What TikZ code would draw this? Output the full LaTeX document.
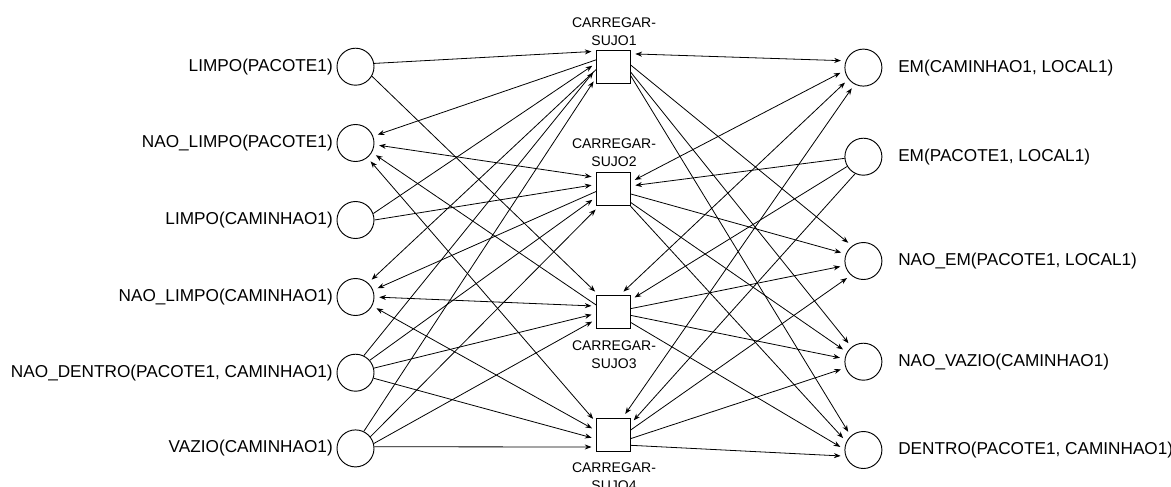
\documentclass[tikz,border=0pt]{standalone}
\usepackage{fontspec}
\setmainfont{Liberation Sans}
\usetikzlibrary{arrows.meta}
\begin{document}
\begin{tikzpicture}[x=0.75pt,y=-0.75pt,
  prop/.style={draw,circle,minimum size=27.75pt,inner sep=0pt,line width=0.7pt},
  act/.style={draw,rectangle,minimum size=25pt,inner sep=0pt,line width=0.7pt},
  lbl/.style={font=\fontsize{12.9}{15}\selectfont,inner sep=0pt},
  albl/.style={font=\fontsize{10.5}{13.1}\selectfont,align=center,inner sep=0pt},
  tip/.tip={Stealth[length=5pt,width=3.8pt]},
  conn/.style={line width=0.6pt,-tip,shorten >=3.6pt},
  biconn/.style={line width=0.6pt,tip-tip,shorten >=3.6pt,shorten <=3.6pt},
]
\useasboundingbox (0,0) rectangle (1171,486);

% propositions before the actions
\node[prop] (L1) at (355.5,66.7) {};
\node[prop] (L2) at (355.5,143) {};
\node[prop] (L3) at (355.5,220) {};
\node[prop] (L4) at (355.5,297) {};
\node[prop] (L5) at (355.5,372.7) {};
\node[prop] (L6) at (355.5,448.4) {};
\node[lbl,anchor=east] (tL1) at (333,66.7) {LIMPO(PACOTE1)};
\node[lbl,anchor=east] (tL2) at (333,143) {NAO\_LIMPO(PACOTE1)};
\node[lbl,anchor=east] (tL3) at (333,220) {LIMPO(CAMINHAO1)};
\node[lbl,anchor=east] (tL4) at (333,297) {NAO\_LIMPO(CAMINHAO1)};
\node[lbl,anchor=east] (tL5) at (333,372.7) {NAO\_DENTRO(PACOTE1, CAMINHAO1)};
\node[lbl,anchor=east] (tL6) at (333,448.4) {VAZIO(CAMINHAO1)};

% actions
\node[act] (A1) at (613.4,66.7) {};
\node[act] (A2) at (613.4,189) {};
\node[act] (A3) at (613.4,312) {};
\node[act] (A4) at (613.4,435) {};
\node[albl] (tA1) at (614,31.5) {CARREGAR-\\SUJO1};
\node[albl] (tA2) at (614,152.5) {CARREGAR-\\SUJO2};
\node[albl] (tA3) at (614,354.5) {CARREGAR-\\SUJO3};
\node[albl] (tA4) at (614,476.5) {CARREGAR-\\SUJO4};

% propositions after the actions
\node[prop] (R1) at (863.4,67.6) {};
\node[prop] (R2) at (863.4,156.7) {};
\node[prop] (R3) at (863.4,261) {};
\node[prop] (R4) at (863.4,361.7) {};
\node[prop] (R5) at (863.4,450) {};
\node[lbl,anchor=west] (tR1) at (898,67.6) {EM(CAMINHAO1, LOCAL1)};
\node[lbl,anchor=west] (tR2) at (898,156.7) {EM(PACOTE1, LOCAL1)};
\node[lbl,anchor=west] (tR3) at (898,261) {NAO\_EM(PACOTE1, LOCAL1)};
\node[lbl,anchor=west] (tR4) at (898,361.7) {NAO\_VAZIO(CAMINHAO1)};
\node[lbl,anchor=west] (tR5) at (898,450) {DENTRO(PACOTE1, CAMINHAO1)};

% cleanliness preconditions and effects
\draw[conn]   (L1.10.8)  -- (A1.138.5);
\draw[conn]   (L1.330.7) -- (A3.131.7);
\draw[conn]   (A1.158)   -- (L2.21.6);
\draw[biconn] (L2.355.3) -- (A2.146);
\draw[conn]   (A3.158)   -- (L2.330.3);
\draw[biconn] (L2.309)   -- (A4.144);
\draw[conn]   (L3.20.6)  -- (A1.168.4);
\draw[conn]   (L3.0)     -- (A2.165);
\draw[conn]   (A1.189)   -- (L4.48.8);
\draw[conn]   (A2.188)   -- (L4.21.6);
\draw[biconn] (L4.0)     -- (A3.161.7);
\draw[biconn] (L4.332)   -- (A4.166.8);

% NAO_DENTRO and VAZIO feed every action
\draw[conn] (L5.64.4)  -- (A1.186);
\draw[conn] (L5.41.9)  -- (A2.205);
\draw[conn] (L5.14.8)  -- (A3.185);
\draw[conn] (L5.343.4) -- (A4.193.5);
\draw[conn] (L6.64.8)  -- (A1.212.6);
\draw[conn] (L6.38.7)  -- (A2.230.6);
\draw[conn] (L6.15.7)  -- (A3.203.4);
\draw[conn] (L6.5)     -- (A4.215.2);

% location preconditions
\draw[biconn] (R1.159.4) -- (A1.37.7);
\draw[biconn] (R1.189.7) -- (A2.22.7);
\draw[biconn] (R1.218)   -- (A3.69);
\draw[biconn] (R1.242.5) -- (A4.62.2);
\draw[conn]   (R2.185)   -- (A2.10.5);
\draw[conn]   (R2.211)   -- (A3.35.5);
\draw[conn]   (R2.244.4) -- (A4.33.8);

% shared effects
\draw[conn] (A1.6)     -- (R3.127);
\draw[conn] (A1.343.3) -- (R4.129.7);
\draw[conn] (A1.333.6) -- (R5.132);
\draw[conn] (A2.344.3) -- (R3.158.2);
\draw[conn] (A2.322)   -- (R4.150);
\draw[conn] (A2.315)   -- (R5.154);
\draw[conn] (A3.11)    -- (R3.194.8);
\draw[conn] (A3.349)   -- (R4.171.7);
\draw[conn] (A3.329)   -- (R5.178);
\draw[conn] (A4.16.7)  -- (R3.229);
\draw[conn] (A4.348.7) -- (R4.199.6);
\draw[conn] (A4.329)   -- (R5.199.6);
\end{tikzpicture}
\end{document}
